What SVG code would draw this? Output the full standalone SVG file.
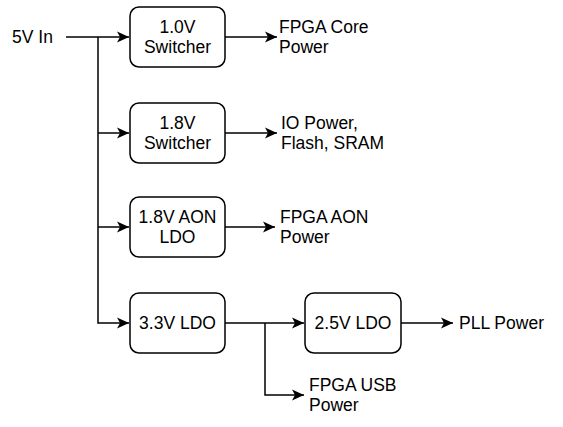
<svg xmlns="http://www.w3.org/2000/svg" width="563" height="427" viewBox="0 0 563 427">
<style>
.box{fill:#fff;stroke:#000;stroke-width:1.5}
.ln{fill:none;stroke:#000;stroke-width:1.5}
text{font-family:"Liberation Sans",Arial,sans-serif;font-size:17.5px;fill:#000}
.c{text-anchor:middle}
</style>
<defs>
<marker id="arr" viewBox="-12.5 -6 13 12" markerWidth="13" markerHeight="12" refX="0" refY="0" orient="auto" markerUnits="userSpaceOnUse">
<path d="M0,0 L-12,-5.5 L-9,0 L-12,5.5 Z" fill="#000"/>
</marker>
</defs>
<rect width="563" height="427" fill="#fff"/>
<g id="connectors">
<path class="ln" d="M66,37 H129" marker-end="url(#arr)"/>
<path class="ln" d="M98,37 V323 H129" marker-end="url(#arr)"/>
<path class="ln" d="M98,133 H129" marker-end="url(#arr)"/>
<path class="ln" d="M98,227 H129" marker-end="url(#arr)"/>
<path class="ln" d="M225,37 H277" marker-end="url(#arr)"/>
<path class="ln" d="M225,133 H277" marker-end="url(#arr)"/>
<path class="ln" d="M225,227 H275" marker-end="url(#arr)"/>
<path class="ln" d="M225,323 H304" marker-end="url(#arr)"/>
<path class="ln" d="M265,323 V395 H304" marker-end="url(#arr)"/>
<path class="ln" d="M401,323 H453" marker-end="url(#arr)"/>
</g>
<g id="in"><text x="12" y="43">5V In</text></g>
<g id="sw10">
<rect class="box" x="130" y="7" width="95" height="60" rx="9"/>
<text class="c" x="177.5" y="33">1.0V</text>
<text class="c" x="177.5" y="53">Switcher</text>
</g>
<g id="sw18">
<rect class="box" x="130" y="103" width="95" height="60" rx="9"/>
<text class="c" x="177.5" y="129">1.8V</text>
<text class="c" x="177.5" y="149">Switcher</text>
</g>
<g id="aon">
<rect class="box" x="130" y="197" width="95" height="60" rx="9"/>
<text class="c" x="177.5" y="223">1.8V AON</text>
<text class="c" x="177.5" y="243">LDO</text>
</g>
<g id="ldo33">
<rect class="box" x="130" y="293" width="95" height="60" rx="9"/>
<text class="c" x="177.5" y="329">3.3V LDO</text>
</g>
<g id="ldo25">
<rect class="box" x="305" y="293" width="96" height="60" rx="9"/>
<text class="c" x="353" y="329">2.5V LDO</text>
</g>
<g id="core"><text x="279" y="33">FPGA Core</text><text x="279" y="53">Power</text></g>
<g id="io"><text x="281" y="129">IO Power,</text><text x="281" y="149">Flash, SRAM</text></g>
<g id="aonp"><text x="280" y="223">FPGA AON</text><text x="280" y="243">Power</text></g>
<g id="pll"><text x="459" y="329">PLL Power</text></g>
<g id="usb"><text x="309" y="391">FPGA USB</text><text x="309" y="411">Power</text></g>
</svg>
